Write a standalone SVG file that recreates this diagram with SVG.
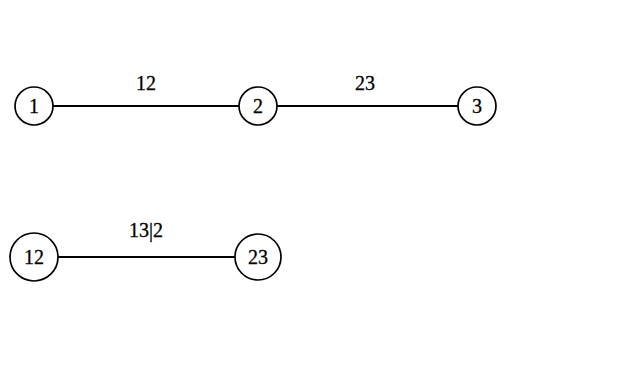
<svg xmlns="http://www.w3.org/2000/svg" width="644" height="385" viewBox="0 0 644 385">
<style>
.n{fill:#fff;stroke:#000;stroke-width:1.7}
.e{stroke:#000;stroke-width:1.8;fill:none}
text{font-family:"Liberation Serif","DejaVu Serif",serif;font-size:20px;fill:#000;stroke:#000;stroke-width:0.3;text-anchor:middle}
</style>
<rect width="644" height="385" fill="#fff"/>
<g id="connectors">
<line class="e" x1="53" y1="106" x2="239" y2="106"/>
<line class="e" x1="277" y1="106" x2="458" y2="106"/>
<line class="e" x1="58" y1="257" x2="235" y2="257"/>
<text x="146" y="90">12</text>
<text x="365" y="90">23</text>
<text x="146" y="237">13|2</text>
</g>
<g id="n1"><circle class="n" cx="34" cy="106" r="19"/><text x="34" y="113">1</text></g>
<g id="n2"><circle class="n" cx="258" cy="106" r="19"/><text x="258" y="113">2</text></g>
<g id="n3"><circle class="n" cx="477" cy="106" r="19"/><text x="477" y="113">3</text></g>
<g id="n12"><circle class="n" cx="34" cy="257" r="24"/><text x="34" y="264">12</text></g>
<g id="n23"><circle class="n" cx="258" cy="257" r="23"/><text x="258" y="264">23</text></g>
</svg>
